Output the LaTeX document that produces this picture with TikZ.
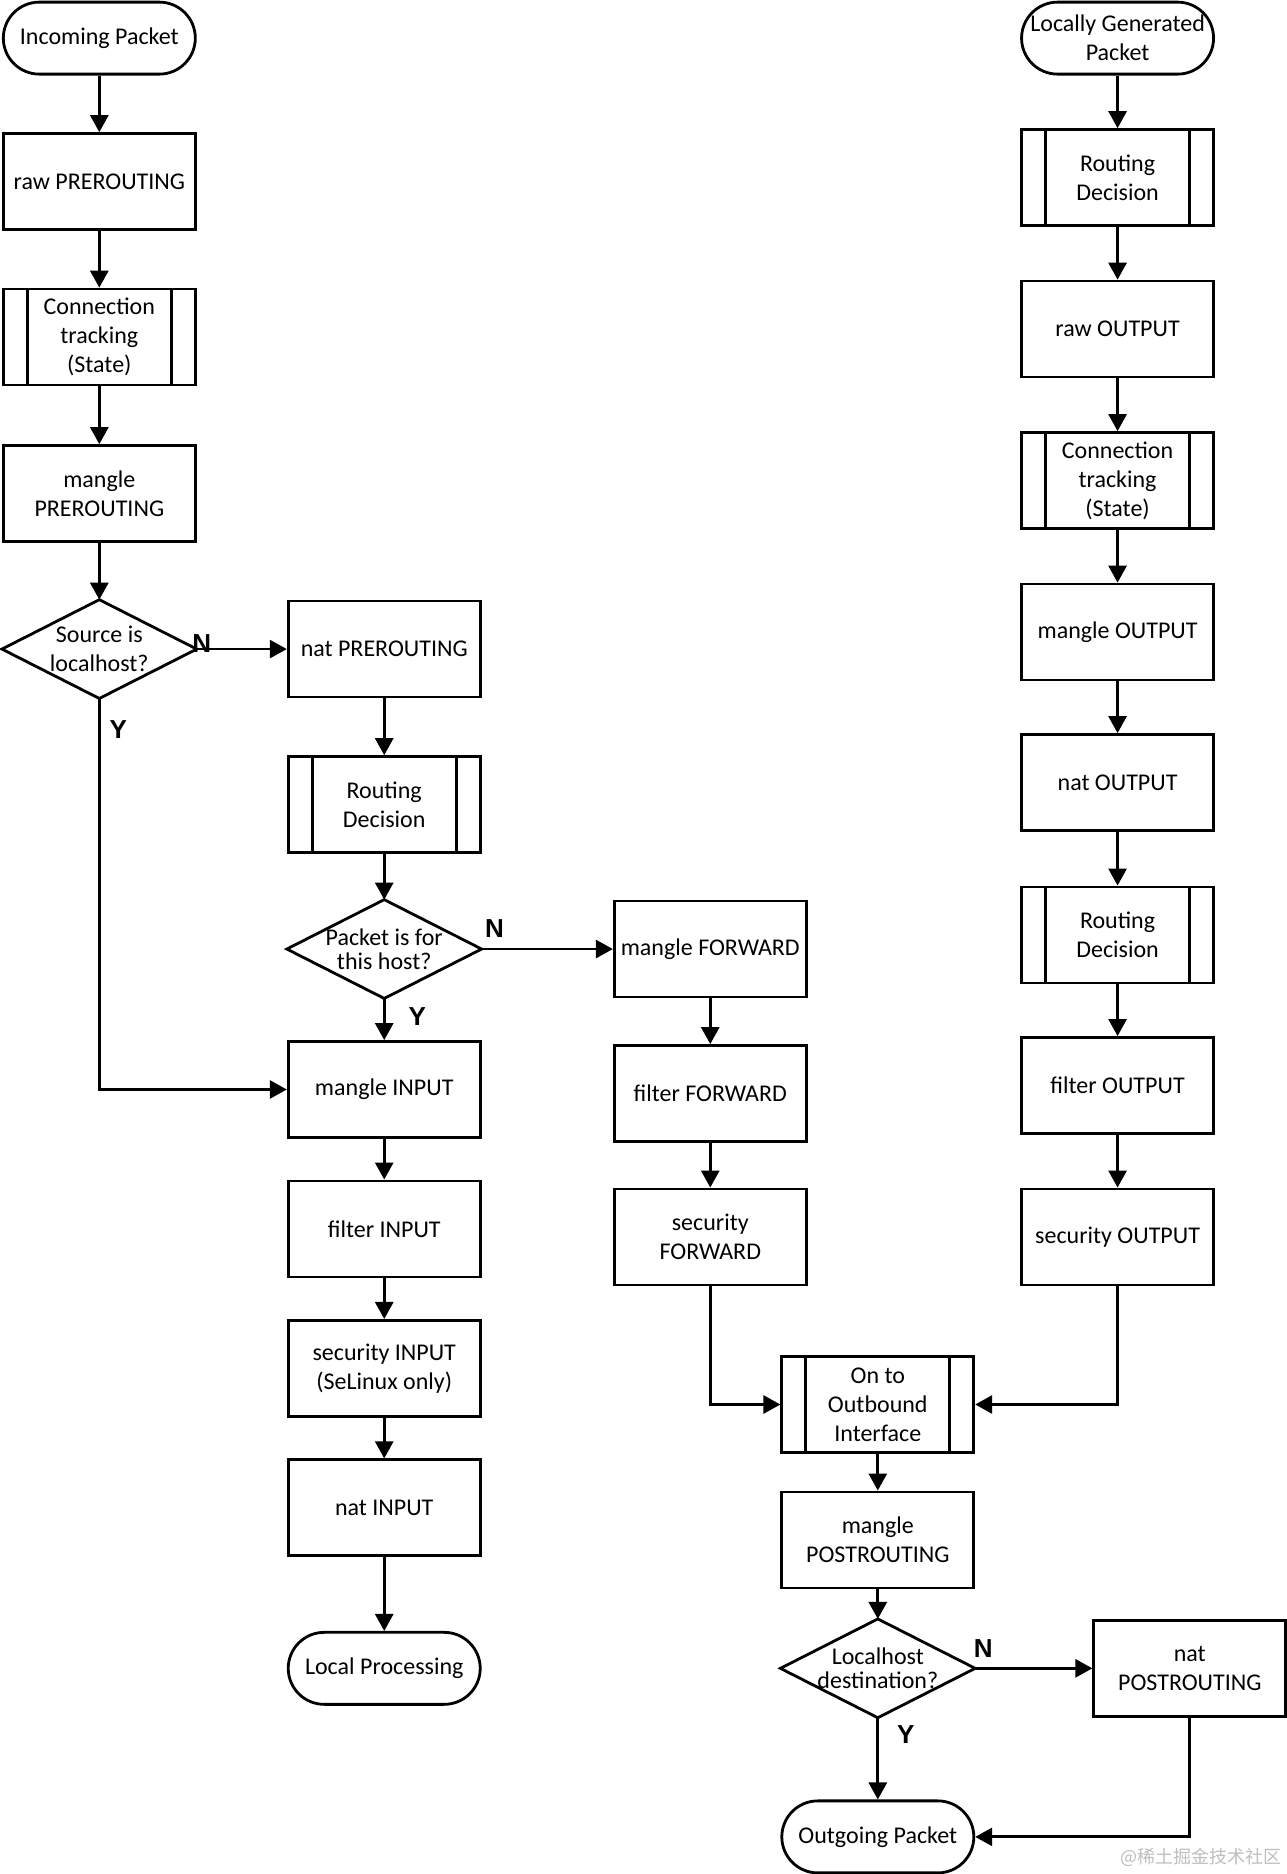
\documentclass[tikz,border=0pt]{standalone}
\usepackage{fontspec}
\setmainfont{Carlito}
\newfontfamily\lblfont{Liberation Sans}
\newfontfamily\cjkfont{Noto Sans CJK SC}
\usetikzlibrary{arrows.meta}
\definecolor{wmgray}{RGB}{190,190,190}
\begin{document}
\begin{tikzpicture}[x=1.0032pt,y=-1.0032pt, line width=2.8pt,
  every node/.style={font=\fontsize{24}{29}\selectfont, align=center, inner sep=0pt},
  proc/.style={draw, rectangle, minimum width=192pt, minimum height=96pt},
  pproc/.style={proc, path picture={
      \draw ([xshift=24pt]path picture bounding box.north west) -- ([xshift=24pt]path picture bounding box.south west);
      \draw ([xshift=-24pt]path picture bounding box.north east) -- ([xshift=-24pt]path picture bounding box.south east);}},
  term/.style={draw, rectangle, rounded corners=36pt, minimum width=192pt, minimum height=72pt},
  dec/.style={rectangle, minimum width=192pt, minimum height=96pt},
  arr/.style={-{Triangle[length=17pt,width=18pt]}},
  yn/.style={font=\lblfont\bfseries\fontsize{26}{26}\selectfont},
  wm/.style={font=\cjkfont\fontsize{18}{18}\selectfont, text=wmgray}
]
\useasboundingbox (0pt,0pt) rectangle (1287pt,-1874pt);
% left column
\node[term]  (inc)    at (99,38)   {Incoming Packet};
\node[proc]  (rawpre) at (99,181)  {raw PREROUTING};
\node[pproc] (ctL)    at (99,336)  {Connection\\tracking\\(State)};
\node[proc]  (manpre) at (99,492)  {mangle\\PREROUTING};
\node[dec]   (d1)     at (99,647)  {Source is\\localhost?};
% middle column
\node[proc]  (natpre) at (383,647)  {nat PREROUTING};
\node[pproc] (rdM)    at (383,802)  {Routing\\Decision};
\node[dec, font=\fontsize{24}{24}\selectfont] (d2) at (383,946) {Packet is for\\this host?};
\node[proc]  (manin)  at (383,1086) {mangle INPUT};
\node[proc]  (filin)  at (383,1225) {filter INPUT};
\node[proc]  (secin)  at (383,1364) {security INPUT\\(SeLinux only)};
\node[proc]  (natin)  at (383,1503) {nat INPUT};
\node[term]  (local)  at (383,1663) {Local Processing};
% forward column
\node[proc]  (manfw)  at (708,946)  {mangle FORWARD};
\node[proc]  (filfw)  at (708,1090) {filter FORWARD};
\node[proc]  (secfw)  at (708,1233) {security\\FORWARD};
% right column
\node[term]  (locg)   at (1114,38)   {Locally Generated\\Packet};
\node[pproc] (rdR1)   at (1114,177)  {Routing\\Decision};
\node[proc]  (rawout) at (1114,328)  {raw OUTPUT};
\node[pproc] (ctR)    at (1114,479)  {Connection\\tracking\\(State)};
\node[proc]  (manout) at (1114,630)  {mangle OUTPUT};
\node[proc]  (natout) at (1114,780)  {nat OUTPUT};
\node[pproc] (rdR2)   at (1114,932)  {Routing\\Decision};
\node[proc]  (filout) at (1114,1082) {filter OUTPUT};
\node[proc]  (secout) at (1114,1233) {security OUTPUT};
% bottom
\node[pproc] (outb)    at (875,1400)  {On to\\Outbound\\Interface};
\node[proc]  (manpost) at (875,1535)  {mangle\\POSTROUTING};
\node[dec, font=\fontsize{24}{24}\selectfont] (d3) at (875,1663) {Localhost\\destination?};
\node[proc]  (natpost) at (1186,1663) {nat\\POSTROUTING};
\node[term]  (outg)    at (875,1831)  {Outgoing Packet};
% diamonds
\foreach \d in {d1,d2,d3}
  \draw (\d.north) -- (\d.east) -- (\d.south) -- (\d.west) -- cycle;
% connectors
\draw[arr] (inc) -- (rawpre);
\draw[arr] (rawpre) -- (ctL);
\draw[arr] (ctL) -- (manpre);
\draw[arr] (manpre) -- (d1.north);
\draw[arr] (d1.east) -- (natpre.west);
\draw[arr] (d1.south) |- (manin.west);
\draw[arr] (natpre) -- (rdM);
\draw[arr] (rdM) -- (d2.north);
\draw[arr] (d2.south) -- (manin);
\draw[arr] (d2.east) -- (manfw.west);
\draw[arr] (manin) -- (filin);
\draw[arr] (filin) -- (secin);
\draw[arr] (secin) -- (natin);
\draw[arr] (natin) -- (local);
\draw[arr] (manfw) -- (filfw);
\draw[arr] (filfw) -- (secfw);
\draw[arr] (secfw.south) |- (outb.west);
\draw[arr] (locg) -- (rdR1);
\draw[arr] (rdR1) -- (rawout);
\draw[arr] (rawout) -- (ctR);
\draw[arr] (ctR) -- (manout);
\draw[arr] (manout) -- (natout);
\draw[arr] (natout) -- (rdR2);
\draw[arr] (rdR2) -- (filout);
\draw[arr] (filout) -- (secout);
\draw[arr] (secout.south) |- (outb.east);
\draw[arr] (outb) -- (manpost);
\draw[arr] (manpost) -- (d3.north);
\draw[arr] (d3.south) -- (outg);
\draw[arr] (d3.east) -- (natpost.west);
\draw[arr] (natpost.south) |- (outg.east);
% labels
\node[yn] (n1) at (201,641) {N};
\node[yn] (y1) at (118,727) {Y};
\node[yn] (n2) at (493,926) {N};
\node[yn] (y2) at (416,1013) {Y};
\node[yn] (n3) at (980,1643) {N};
\node[yn] (y3) at (903,1729) {Y};
\node[wm] (wmark) at (1197,1851) {@稀土掘金技术社区};
\end{tikzpicture}
\end{document}
